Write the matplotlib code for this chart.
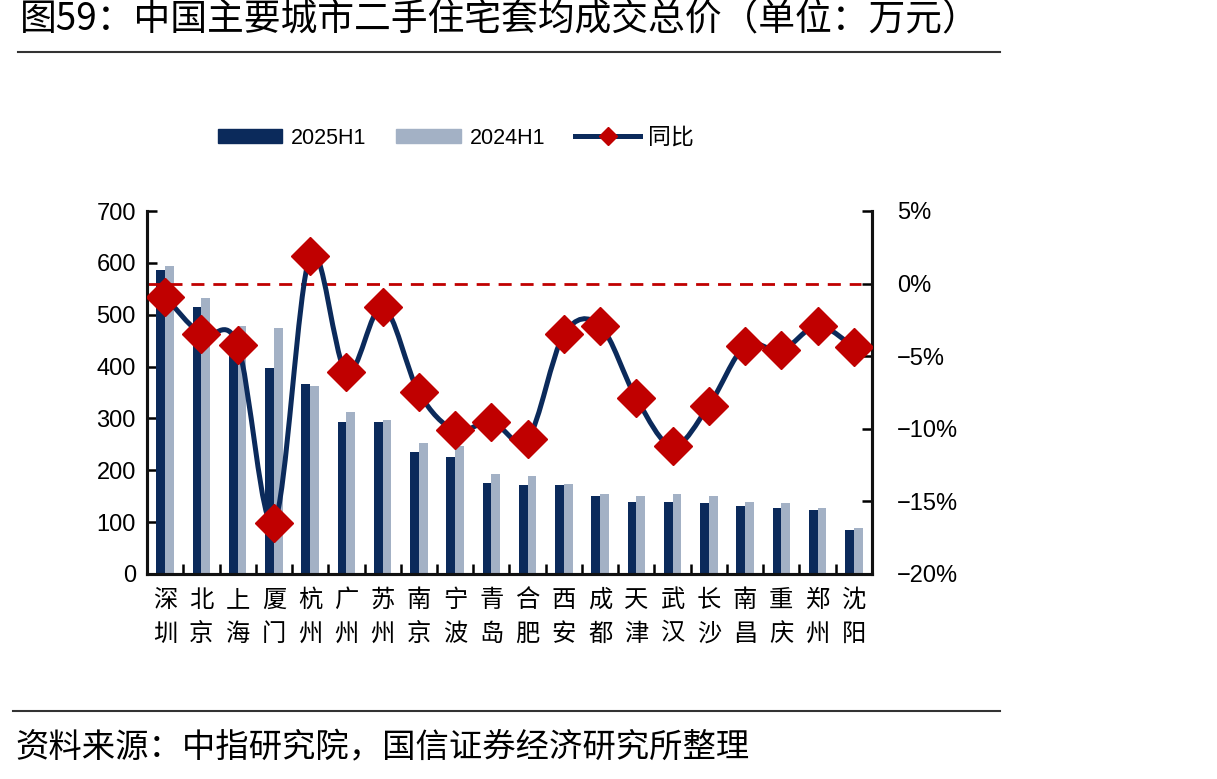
import numpy as np
import matplotlib
matplotlib.use("Agg")
import matplotlib.pyplot as plt
from matplotlib.path import Path
from matplotlib.patches import PathPatch, Patch
from matplotlib.lines import Line2D
from matplotlib.ticker import FuncFormatter, FixedLocator

plt.rcParams['font.family'] = ['Liberation Sans', 'Noto Sans CJK SC', 'DejaVu Sans']
plt.rcParams['axes.unicode_minus'] = True

cities = ['深圳', '北京', '上海', '厦门', '杭州', '广州', '苏州', '南京', '宁波', '青岛',
          '合肥', '西安', '成都', '天津', '武汉', '长沙', '南昌', '重庆', '郑州', '沈阳']
price_2025h1 = [586, 514, 440, 398, 367, 294, 294, 236, 225, 175,
                171, 171, 151, 139, 139, 136, 132, 127, 124, 85]
price_2024h1 = [594, 532, 478, 475, 363, 313, 297, 252, 247, 193,
                189, 173, 155, 151, 155, 151, 139, 136, 127, 89]
yoy_pct = [-0.9, -3.5, -4.2, -16.5, 1.9, -6.1, -1.6, -7.5, -10.1, -9.5,
           -10.7, -3.5, -2.9, -7.9, -11.2, -8.4, -4.3, -4.6, -2.9, -4.4]

navy = '#0b2a5b'
grey = '#a3b1c5'
red = '#c00000'
cjk = ['Noto Sans CJK SC', 'DejaVu Sans']

W, H = 1217, 779
fig = plt.figure(figsize=(W / 100, H / 100), dpi=100)
ax = fig.add_axes([147 / W, 1 - 574 / H, (872 - 147) / W, (574 - 211) / H])

x = np.arange(len(cities))
ax.bar(x - 0.12, price_2025h1, width=0.24, color=navy, zorder=2)
ax.bar(x + 0.12, price_2024h1, width=0.24, color=grey, zorder=2)

ax.set_xlim(-0.5, len(cities) - 0.5)
ax.set_ylim(0, 700)
ax.set_yticks(range(0, 701, 100))
ax.set_xticks(x)
ax.set_xticklabels([])
# stacked city names under each group (tick labels drop linespacing)
for xi, c in zip(x, cities):
    ax.text(xi, -0.035, '\n'.join(c), transform=ax.get_xaxis_transform(),
            ha='center', va='top', family=cjk, fontsize=17.5, linespacing=1.4)
ax.xaxis.set_minor_locator(FixedLocator(x[:-1] + 0.5))
ax.tick_params(axis='x', which='major', length=0)
ax.tick_params(axis='x', which='minor', direction='in', length=7, width=1.8)
ax.tick_params(axis='y', direction='in', length=7, width=1.8, labelsize=17, pad=8)

for s in ['left', 'bottom', 'right']:
    ax.spines[s].set_linewidth(2.2)
    ax.spines[s].set_color('#111111')
ax.spines['top'].set_visible(False)

ax2 = ax.twinx()
ax2.set_ylim(-20, 5)
ax2.set_yticks(range(-20, 6, 5))
ax2.yaxis.set_major_formatter(FuncFormatter(lambda v, p: f'{int(v)}%'.replace('-', '\u2212')))
ax2.tick_params(axis='y', direction='in', length=7, width=1.8, labelsize=17, pad=18)
for s in ['left', 'bottom', 'right']:
    ax2.spines[s].set_linewidth(2.2)
    ax2.spines[s].set_color('#111111')
ax2.spines['top'].set_visible(False)

ax2.axhline(0, xmax=0.985, color=red, lw=2, dashes=(4.7, 3.2), zorder=1)

# smoothed line like the spreadsheet's, cubic Bezier through each point
px = x.astype(float)
py = np.array(yoy_pct, dtype=float)
verts = [(px[0], py[0])]
codes = [Path.MOVETO]
n = len(px)
for i in range(n - 1):
    p0 = np.array([px[max(i - 1, 0)], py[max(i - 1, 0)]])
    p1 = np.array([px[i], py[i]])
    p2 = np.array([px[i + 1], py[i + 1]])
    p3 = np.array([px[min(i + 2, n - 1)], py[min(i + 2, n - 1)]])
    c1 = p1 + (p2 - p0) / 6
    c2 = p2 - (p3 - p1) / 6
    verts += [tuple(c1), tuple(c2), tuple(p2)]
    codes += [Path.CURVE4] * 3
ax2.add_patch(PathPatch(Path(verts, codes), facecolor='none', edgecolor=navy,
                        lw=3.6, zorder=3, capstyle='round', joinstyle='round'))
ax2.plot(px, py, linestyle='none', marker='D', ms=19, color=red, zorder=4)

handles = [Patch(color=navy), Patch(color=grey),
           Line2D([], [], color=navy, lw=3.6, marker='D', ms=9, mfc=red, mec=red)]
labels = ['2025H1', '2024H1', '同比']
leg = fig.legend(handles, labels, loc='center', bbox_to_anchor=(456 / W, 1 - 137 / H),
                 ncol=3, frameon=False, handlelength=3.0, handleheight=0.6,
                 handletextpad=0.4, columnspacing=1.4,
                 prop={'family': ['Liberation Sans', 'Noto Sans CJK SC', 'DejaVu Sans'],
                       'size': 15.5})
for t in leg.get_texts():
    if t.get_text() == '同比':
        t.set_fontsize(16.5)

fig.text(20 / W, 1 - 20 / H, '图59：中国主要城市二手住宅套均成交总价（单位：万元）',
         fontsize=26.5, family=cjk, va='center', ha='left')
fig.add_artist(Line2D([18 / W, 1000 / W], [1 - 52 / H] * 2, color='#333333', lw=1.5))
fig.add_artist(Line2D([13 / W, 1000 / W], [1 - 711 / H] * 2, color='#333333', lw=1.5))
fig.text(15 / W, 1 - 748 / H, '资料来源：中指研究院，国信证券经济研究所整理',
         fontsize=24, family=cjk, va='center', ha='left')

fig.savefig('out.png', dpi=100)
